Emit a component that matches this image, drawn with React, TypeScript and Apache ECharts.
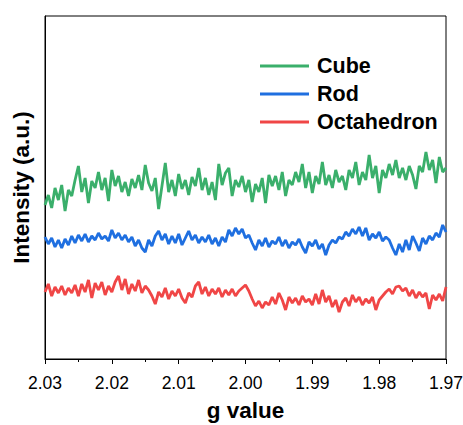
import React, { useEffect, useRef } from "react";
import * as echarts from "echarts";

const X_START = 2.03;
const X_STEP = 0.0005;

const cube = [
  154, 164, 151, 171, 159, 174, 148, 169, 163, 179,
  193, 167, 181, 156, 178, 171, 187, 169, 181, 158,
  189, 173, 183, 167, 177, 163, 180, 171, 184, 169,
  194, 176, 168, 181, 150, 173, 196, 167, 179, 163,
  185, 170, 179, 164, 182, 173, 191, 169, 181, 164,
  177, 159, 195, 174, 186, 191, 163, 179, 172, 183,
  167, 179, 157, 175, 167, 181, 156, 184, 173, 183,
  169, 187, 163, 179, 174, 187, 177, 195, 171, 187,
  166, 183, 175, 197, 174, 184, 171, 189, 177, 183,
  169, 189, 181, 197, 174, 187, 179, 204, 181, 193,
  166, 189, 181, 195, 184, 199, 181, 191, 179, 193,
  184, 170, 193, 187, 207, 189, 199, 176, 202, 187,
  191,
];

const rod = [
  122, 115, 121, 112, 119, 111, 120, 114, 123, 116,
  124, 118, 125, 117, 123, 119, 126, 120, 123, 118,
  129, 121, 126, 119, 124, 117, 122, 113, 119, 111,
  107, 119, 113, 123, 128, 119, 125, 115, 123, 116,
  125, 114, 121, 128, 119, 124, 116, 122, 117, 124,
  115, 121, 113, 122, 117, 129, 123, 131, 125, 130,
  121, 124, 116, 109, 119, 113, 121, 112, 118, 115,
  122, 113, 119, 111, 117, 114, 120, 112, 106, 117,
  113, 119, 110, 115, 104, 114, 119, 116, 122, 120,
  127, 123, 130, 125, 132, 123, 131, 119, 125, 121,
  127, 118, 122, 119, 111, 104, 115, 107, 119, 109,
  123, 116, 108, 121, 115, 123, 119, 126, 122, 134,
  127,
];

const octahedron = [
  67, 75, 63, 72, 66, 73, 64, 71, 66, 74,
  63, 75, 67, 79, 61, 76, 69, 77, 64, 73,
  67, 77, 83, 69, 80, 65, 75, 68, 79, 66,
  73, 69, 63, 55, 67, 62, 71, 60, 68, 63,
  70, 61, 56, 66, 62, 73, 77, 65, 72, 63,
  70, 65, 71, 62, 69, 64, 70, 63, 68, 71,
  74, 68, 60, 53, 58, 51, 57, 54, 62, 55,
  66, 59, 49, 62, 56, 61, 54, 63, 57, 60,
  54, 65, 55, 69, 57, 63, 52, 59, 47, 57,
  61, 53, 64, 57, 62, 54, 60, 56, 62, 49,
  59, 63, 67, 70, 65, 72, 73, 68, 71, 63,
  69, 61, 67, 62, 66, 50, 64, 59, 65, 58,
  72,
];

const seriesNames = ["Cube", "Rod", "Octahedron"];
const seriesColors = ["#3aaf6b", "#1f6fe0", "#f04646"];
const xTicks = [2.03, 2.02, 2.01, 2.0, 1.99, 1.98, 1.97];

const toPairs = (vals: number[]) =>
  vals.map((v, i) => [+(X_START - i * X_STEP).toFixed(5), v]);

const FONT = "Arial, 'Liberation Sans', sans-serif";

export default function App() {
  const ref = useRef<HTMLDivElement>(null);
  useEffect(() => {
    if (!ref.current) return;
    const chart = echarts.init(ref.current, undefined, { renderer: "svg" });
    const datasets = [cube, rod, octahedron];
    chart.setOption({
      animation: false,
      backgroundColor: "#fff",
      grid: {
        left: 45,
        right: 17,
        top: 16,
        bottom: 66,
        show: true,
        borderColor: "#000",
        borderWidth: 1,
        containLabel: false,
        outerBoundsMode: "none",
      },
      legend: {
        orient: "vertical",
        left: 260,
        top: 54,
        padding: 0,
        icon: "rect",
        itemWidth: 49,
        itemHeight: 3,
        itemGap: 4,
        textStyle: {
          fontFamily: FONT,
          fontWeight: "bold",
          fontSize: 21.5,
          color: "#000",
          lineHeight: 24,
          padding: [0, 0, 0, 3],
        },
        data: seriesNames,
      },
      xAxis: {
        type: "value",
        min: Math.min(...xTicks),
        max: Math.max(...xTicks),
        interval: 0.01,
        inverse: true,
        name: "g value",
        nameLocation: "middle",
        nameGap: 40,
        nameTextStyle: {
          fontFamily: FONT,
          fontWeight: "bold",
          fontSize: 22.5,
          color: "#000",
        },
        axisLine: { show: true, lineStyle: { color: "#000", width: 1 } },
        axisTick: { show: true, length: 5, lineStyle: { color: "#000" } },
        minorTick: { show: true, splitNumber: 2, length: 3, lineStyle: { color: "#000" } },
        splitLine: { show: false },
        axisLabel: {
          fontFamily: FONT,
          fontSize: 17.5,
          color: "#000",
          margin: 15,
          formatter: (v: number) => v.toFixed(2),
        },
      },
      yAxis: {
        type: "value",
        min: 0,
        max: 343,
        name: "Intensity (a.u.)",
        nameLocation: "middle",
        nameGap: 12,
        nameTextStyle: {
          fontFamily: FONT,
          fontWeight: "bold",
          fontSize: 22.5,
          color: "#000",
        },
        axisLine: { show: true, lineStyle: { color: "#000", width: 1 } },
        axisTick: { show: false },
        axisLabel: { show: false },
        splitLine: { show: false },
      },
      series: seriesNames.map((name, k) => ({
        name,
        type: "line",
        data: toPairs(datasets[k]),
        symbol: "none",
        color: seriesColors[k],
        lineStyle: { width: 2.8, color: seriesColors[k] },
      })),
    });
    return () => chart.dispose();
  }, []);
  return (
    <div
      ref={ref}
      style={{ position: "fixed", left: 0, top: 0, width: 463, height: 425 }}
    />
  );
}
